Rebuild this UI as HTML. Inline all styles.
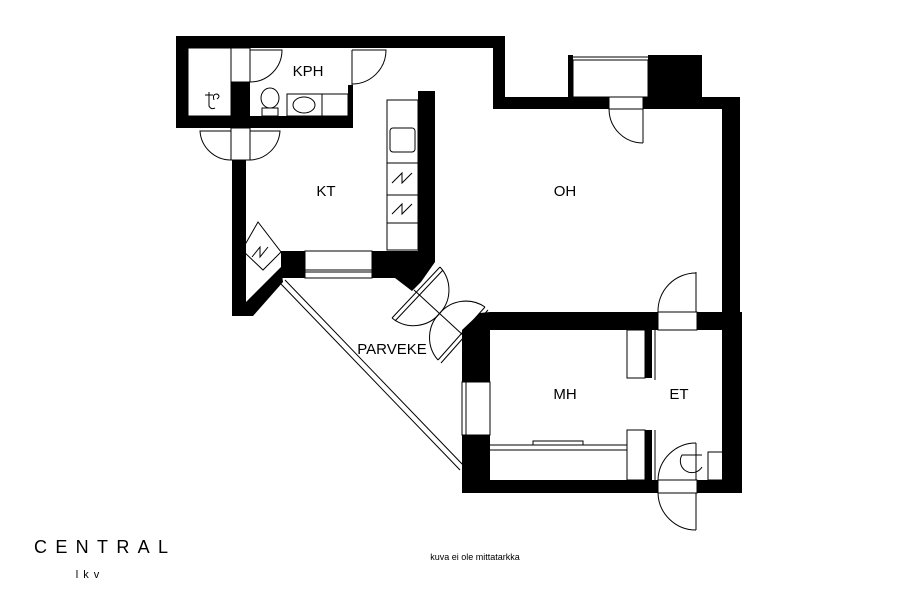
<!DOCTYPE html>
<html><head><style>body{margin:0;background:#fff}svg{display:block}text{font-family:"Liberation Sans",sans-serif}</style></head><body>
<svg width="900" height="600" viewBox="0 0 900 600" xmlns="http://www.w3.org/2000/svg">
<g fill="#000">
<rect x="176" y="36" width="326" height="12"/>
<rect x="176" y="36" width="12" height="92"/>
<rect x="176" y="116" width="177" height="12"/>
<rect x="348" y="85" width="5" height="32"/>
<rect x="231" y="82" width="19" height="35"/>
<rect x="493" y="36" width="12" height="73"/>
<rect x="493" y="97" width="116" height="12"/>
<rect x="643" y="97" width="97" height="12"/>
<rect x="568" y="55" width="5" height="42"/>
<rect x="648" y="55" width="54" height="42"/>
<rect x="722" y="97" width="18" height="215"/>
<rect x="232" y="160" width="14" height="156"/>
<rect x="418" y="91" width="17" height="167"/>
<rect x="281" y="251" width="24" height="27"/>
<polygon points="372,251 435,251 435,262 421,282 412,291 395,278 372,278"/>
<polygon points="246,302 281,267 283,282 253,316 246,316"/>
<rect x="490" y="312" width="168" height="18"/>
<rect x="697" y="312" width="45" height="18"/>
<polygon points="462,330 480,313 490,312 490,330"/>
<rect x="462" y="330" width="28" height="52"/>
<rect x="462" y="435" width="28" height="58"/>
<rect x="722" y="312" width="20" height="181"/>
<rect x="462" y="480" width="196" height="13"/>
<rect x="697" y="480" width="45" height="13"/>
<rect x="645" y="330" width="7" height="48"/>
<rect x="645" y="430" width="7" height="50"/>
</g>
<g fill="none" stroke="#000" stroke-width="1">
<rect x="573" y="60" width="75" height="37"/>
<line x1="573" y1="57" x2="648" y2="57"/>
<rect x="609" y="97" width="34" height="12"/>
<line x1="643" y1="109" x2="643" y2="143"/><path d="M609 109 A34 34 0 0 0 643 143"/>
<rect x="231" y="48" width="19" height="34"/>
<line x1="250" y1="50" x2="250" y2="82"/><path d="M250 50 L282 50 A32 32 0 0 1 250 82"/>
<line x1="352" y1="50" x2="352" y2="85"/><path d="M352 50 L386 50 A34 34 0 0 1 352 84"/>
<rect x="231" y="128" width="19" height="32"/>
<path d="M231 131 L200 131 A31 31 0 0 0 231 160"/><path d="M250 131 L280 131 A31 31 0 0 1 250 160"/>
<rect x="188" y="48" width="43" height="68"/>
<path d="M205 95 l8 0 M209 92 v14 q2 4 6 2 M214 100 q-2 -6 3 -6 q4 2 0 5"/>
<ellipse cx="270" cy="98" rx="9" ry="10"/><rect x="262" y="108" width="16" height="8"/>
<rect x="287" y="94" width="35" height="22"/><ellipse cx="304" cy="105" rx="11" ry="8"/>
<rect x="322" y="94" width="26" height="22"/>
<rect x="387" y="100" width="31" height="150"/>
<rect x="390" y="128" width="25" height="24" rx="3"/>
<line x1="387" y1="163" x2="418" y2="163"/><line x1="387" y1="195" x2="418" y2="195"/><line x1="387" y1="223" x2="418" y2="223"/>
<path d="M392 183 l10 -10 v10 l10 -10 M392 214 l10 -10 v10 l10 -10"/>
<polygon points="242,250 258,222 281,252 263,270"/>
<path d="M252 257 l8 -10 v10 l8 -10"/>
<rect x="305" y="251" width="67" height="27"/>
<line x1="305" y1="270" x2="372" y2="270"/><line x1="305" y1="272" x2="372" y2="272"/>
<line x1="281" y1="284" x2="460" y2="470"/><line x1="285" y1="280" x2="464" y2="466"/>
<!-- balcony doors -->
<path d="M414 290 L464 336"/>
<path d="M392 318 L440 267 M395 321 L443 270"/>
<path d="M438 360 L485 307 M441 363 L488 310"/>
<path d="M440 267 A34 34 0 0 1 440 313"/>
<path d="M392 318 A34 34 0 0 0 440 313"/>
<path d="M485 307 A34 34 0 0 0 440 313"/>
<path d="M438 360 A34 34 0 0 1 440 313"/>
<rect x="462" y="382" width="28" height="53"/><line x1="466" y1="382" x2="466" y2="435"/>
<rect x="627" y="330" width="18" height="48"/><rect x="627" y="430" width="18" height="50"/>
<path d="M655 330 v50 M655 430 v50"/>
<line x1="490" y1="445" x2="627" y2="445"/><line x1="490" y1="450" x2="627" y2="450"/>
<rect x="533" y="441" width="50" height="4"/>
<rect x="658" y="312" width="39" height="18"/>
<line x1="696" y1="272" x2="696" y2="312"/><path d="M658 312 A38 38 0 0 1 696 273"/>
<rect x="658" y="480" width="39" height="13"/>
<line x1="696" y1="493" x2="696" y2="530"/><path d="M658 493 A38 38 0 0 0 696 530"/>
<line x1="696" y1="443" x2="696" y2="480"/><path d="M658 480 A38 38 0 0 1 696 443"/>
<rect x="708" y="452" width="26" height="28"/><path d="M702 455 h-20 a10 10 0 0 0 20 12"/>
</g>
<g font-size="15" fill="#000" text-anchor="middle">
<text x="308" y="76">KPH</text><text x="326" y="196">KT</text><text x="565" y="196">OH</text>
<text x="392" y="354">PARVEKE</text><text x="565" y="399">MH</text><text x="679" y="399">ET</text>
</g>
<text x="475" y="560" font-size="9" text-anchor="middle">kuva ei ole mittatarkka</text>
<text x="34" y="553" font-size="18" textLength="134" lengthAdjust="spacing">CENTRAL</text>
<text x="90" y="578" font-size="11" letter-spacing="5" text-anchor="middle">lkv</text>
</svg>
</body></html>
